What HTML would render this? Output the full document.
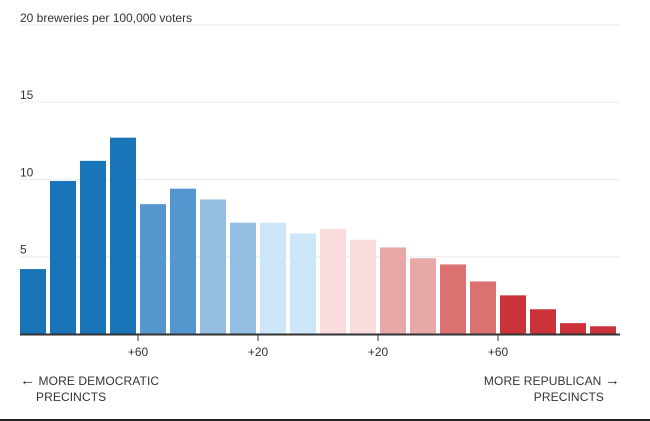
<!DOCTYPE html>
<html><head><meta charset="utf-8"><style>
body{margin:0;background:#fff;width:650px;height:421px;overflow:hidden;font-family:"Liberation Sans",sans-serif}
svg{display:block}
</style></head><body>
<svg id="chart" width="650" height="421" xmlns="http://www.w3.org/2000/svg"></svg>
<script>
const values=[4.2,9.9,11.2,12.7,8.4,9.4,8.7,7.2,7.2,6.5,6.8,6.1,5.6,4.9,4.5,3.4,2.5,1.6,0.7,0.5];
const colors=["#1a75b8","#1a75b8","#1a75b8","#1a75b8","#5596cf","#5596cf","#93bde1","#93bde1","#cde7f9","#cde7f9","#fadcdc","#fadcdc","#e8a8a8","#e8a8a8","#dc7171","#dc7171","#cb323a","#cb323a","#cb323a","#cb323a"];
const yTicks=[5,10,15,20];
const xTickLabels=["+60","+20","+20","+60"];
const xTickPos=[4,8,12,16];
const svg=document.getElementById('chart');
const NS="http://www.w3.org/2000/svg";
const x0=20,slot=30,bw=26,base=334,ppu=15.46;
const y=v=>base-v*ppu;
const xs=i=>x0+i*slot;
function mk(t,a,txt){const e=document.createElementNS(NS,t);for(const k in a)e.setAttribute(k,a[k]);if(txt!=null)e.textContent=txt;svg.appendChild(e);return e;}
yTicks.forEach(t=>{
  const g=mk('line',{x1:20,x2:620,y1:y(t),y2:y(t),stroke:'#ebebeb','stroke-width':1});
  
  
  const l=mk('text',{x:20,y:y(t)-3,'font-size':12,fill:'#333'},t===20?'20 breweries per 100,000 voters':String(t));
  
  
});
values.forEach((v,i)=>{
  const r=mk('rect',{x:xs(i),y:y(v),width:bw,height:base-y(v),fill:colors[i]});
  
  
});
const ax=mk('line',{x1:20,x2:620,y1:base+0.5,y2:base+0.5,stroke:'#333','stroke-width':2});


xTickPos.forEach((p,i)=>{
  const tx=xs(p)-2;
  const t=mk('line',{x1:tx,x2:tx,y1:base,y2:base+7,stroke:'#333','stroke-width':1});
  
  
  const l=mk('text',{x:tx,y:356,'font-size':12,fill:'#333','text-anchor':'middle'},xTickLabels[i]);
  
  
});
const a=mk('text',{x:20,y:385,'font-size':12,fill:'#333','letter-spacing':'0.1'});
a.innerHTML='<tspan font-size="15">←</tspan> MORE DEMOCRATIC';


const a2=mk('text',{x:36,y:401,'font-size':12,fill:'#333','letter-spacing':'0.1'},'PRECINCTS');


const b=mk('text',{x:620,y:385,'font-size':12,fill:'#333','text-anchor':'end','letter-spacing':'0.1'});
b.innerHTML='MORE REPUBLICAN <tspan font-size="15">→</tspan>';


const b2=mk('text',{x:604,y:401,'font-size':12,fill:'#333','text-anchor':'end','letter-spacing':'0.1'},'PRECINCTS');


const bl=mk('line',{x1:0,x2:650,y1:420,y2:420,stroke:'#222','stroke-width':2});


</script>
</body></html>
